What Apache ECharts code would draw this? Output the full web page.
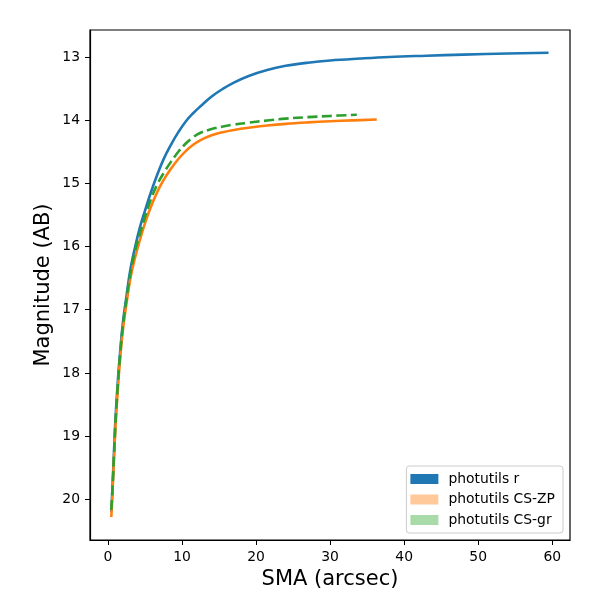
<!DOCTYPE html>
<html>
<head>
<meta charset="utf-8">
<script src="https://cdn.jsdelivr.net/npm/echarts@6/dist/echarts.min.js"></script>
<style>
  html, body { margin: 0; padding: 0; background: #fff; }
  #chart { width: 600px; height: 600px; }
</style>
</head>
<body>
<div id="chart"></div>
<script>
// curve of growth
var smaR = [0.45, 0.6, 0.8, 1.0, 1.3, 1.6, 2.0, 2.5, 3.0, 3.6, 4.3, 5.0, 5.8, 6.6, 7.5, 8.5, 9.5, 10.5, 11.5, 12.5, 14, 15.5, 17, 19, 21.5, 24, 27, 30, 34, 38, 43, 48, 54, 59.5];
var magR = [20.2, 19.82, 19.28, 18.75, 18.18, 17.72, 17.22, 16.78, 16.38, 16.04, 15.7, 15.43, 15.14, 14.88, 14.62, 14.39, 14.19, 14.02, 13.89, 13.78, 13.625, 13.505, 13.405, 13.3, 13.205, 13.14, 13.09, 13.055, 13.025, 13.0, 12.98, 12.962, 12.945, 12.932];

var smaZP = [0.45, 0.6, 0.8, 1.0, 1.3, 1.6, 2.0, 2.5, 3.0, 3.6, 4.3, 5.0, 5.8, 6.6, 7.5, 8.5, 9.5, 10.5, 11.5, 12.5, 14, 15.5, 17, 19, 21.5, 24, 27, 30, 33, 36.3];
var magZP = [20.28, 19.9, 19.38, 18.88, 18.3, 17.83, 17.33, 16.9, 16.52, 16.2, 15.9, 15.63, 15.37, 15.15, 14.95, 14.77, 14.615, 14.49, 14.39, 14.315, 14.24, 14.19, 14.155, 14.12, 14.085, 14.058, 14.035, 14.017, 14.003, 13.99];

var smaGR = [0.45, 0.6, 0.8, 1.0, 1.3, 1.6, 2.0, 2.5, 3.0, 3.6, 4.3, 5.0, 5.8, 6.6, 7.5, 8.5, 9.5, 10.5, 11.5, 12.5, 14, 15.5, 17, 19, 21.5, 24, 27, 30, 33.6];
var magGR = [20.17, 19.85, 19.33, 18.82, 18.24, 17.77, 17.27, 16.83, 16.44, 16.1, 15.8, 15.53, 15.25, 15.03, 14.84, 14.66, 14.5, 14.37, 14.27, 14.2, 14.14, 14.1, 14.07, 14.04, 14.005, 13.975, 13.952, 13.933, 13.915];

var names = ['photutils r', 'photutils CS-ZP', 'photutils CS-gr'];
var xTicks = [0, 10, 20, 30, 40, 50, 60];
var yTicks = [13, 14, 15, 16, 17, 18, 19, 20];

function pairs(xs, ys) {
    var out = [];
    for (var i = 0; i < xs.length; i++) out.push([xs[i], ys[i]]);
    return out;
}

var font = 'DejaVu Sans';
var option = {
    animation: false,
    backgroundColor: '#fff',
    textStyle: { fontFamily: font },
    grid: {
        left: 90, right: 30, top: 30, bottom: 60,
        show: true, borderColor: '#000', borderWidth: 1.2, backgroundColor: 'transparent'
    },
    xAxis: {
        type: 'value',
        min: -2.43, max: 62.4,
        name: 'SMA (arcsec)',
        nameLocation: 'middle',
        nameGap: 28,
        nameTextStyle: { fontSize: 21, color: '#000', fontFamily: font },
        splitLine: { show: false },
        axisLine: { onZero: false, lineStyle: { color: '#000', width: 1.2 } },
        axisTick: { customValues: xTicks, length: 5, lineStyle: { color: '#000' } },
        axisLabel: { customValues: xTicks, margin: 10, fontSize: 13.9, color: '#000', fontFamily: font }
    },
    yAxis: {
        type: 'value',
        inverse: true,
        min: 12.573, max: 20.644,
        name: 'Magnitude (AB)',
        nameLocation: 'middle',
        nameGap: 36,
        nameMoveOverlap: false,
        nameTextStyle: { fontSize: 21, color: '#000', fontFamily: font },
        splitLine: { show: false },
        axisLine: { show: true, onZero: false, lineStyle: { color: '#000', width: 1.2 } },
        axisTick: { show: true, customValues: yTicks, length: 5, lineStyle: { color: '#000' } },
        axisLabel: { customValues: yTicks, margin: 10, fontSize: 13.9, color: '#000', fontFamily: font }
    },
    legend: {
        orient: 'vertical',
        right: 37, top: 466,
        padding: [6, 8, 6, 4],
        backgroundColor: '#fff',
        borderColor: '#ccc', borderWidth: 1, borderRadius: 3,
        itemWidth: 28, itemHeight: 10, itemGap: 6.5,
        textStyle: { fontSize: 13.9, color: '#000', fontFamily: font, lineHeight: 14, padding: [0, 0, 0, 5] },
        data: [
            { name: names[0], icon: 'rect', itemStyle: { color: '#1f77b4' } },
            { name: names[1], icon: 'rect', itemStyle: { color: '#ffc999' } },
            { name: names[2], icon: 'rect', itemStyle: { color: '#a9dba9' } }
        ]
    },
    series: [
        {
            name: names[0], type: 'line', showSymbol: false, smooth: 0.4,
            data: pairs(smaR, magR),
            lineStyle: { color: '#1f77b4', width: 2.6 }, itemStyle: { color: '#1f77b4' }
        },
        {
            name: names[1], type: 'line', showSymbol: false, smooth: 0.4,
            data: pairs(smaZP, magZP),
            lineStyle: { color: '#ff7f0e', width: 2.6 }, itemStyle: { color: '#ff7f0e' }
        },
        {
            name: names[2], type: 'line', showSymbol: false, smooth: 0.4,
            data: pairs(smaGR, magGR),
            lineStyle: { color: '#2ca02c', width: 2.6, type: [10, 4.5] }, itemStyle: { color: '#2ca02c' }
        }
    ]
};

var myChart = echarts.init(document.getElementById('chart'));
myChart.setOption(option);
</script>
</body>
</html>
